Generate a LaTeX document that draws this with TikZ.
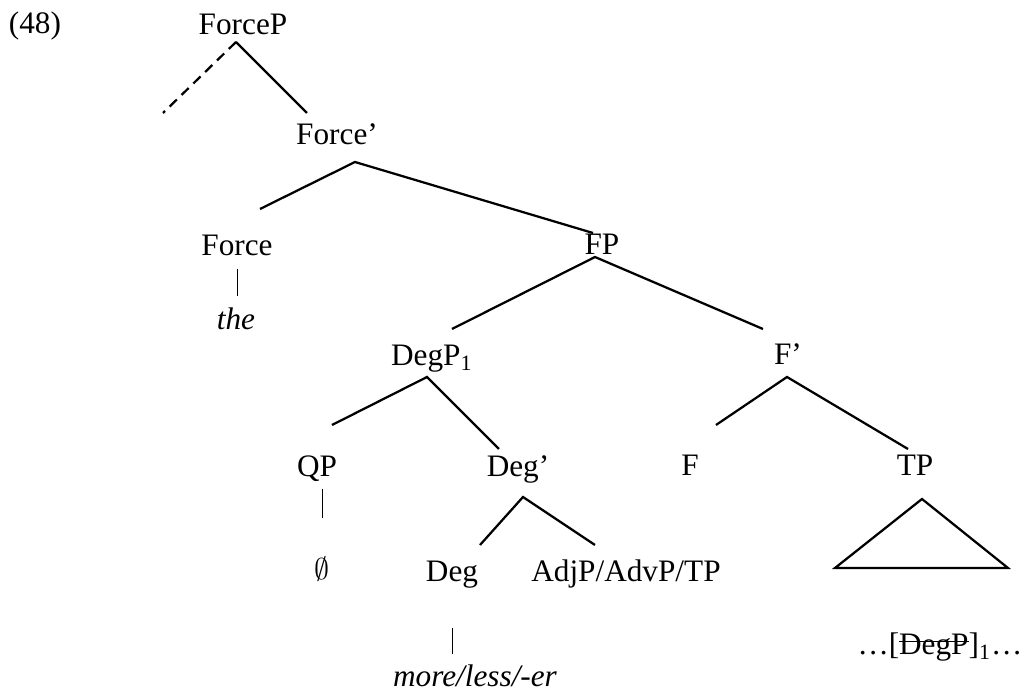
\documentclass[tikz,border=0pt]{standalone}
\usepackage{fontspec}
\setmainfont{Liberation Serif}
\usetikzlibrary{positioning}
\newcommand{\strikeout}[1]{\setbox0\hbox{#1}\rlap{\raisebox{0.4em}{\rule{\wd0}{0.6pt}}}\box0}

\begin{document}
\begin{tikzpicture}[x=0.4pt, y=-0.4pt,
		lbl/.style={inner sep=0pt, anchor=base},
		branch/.style={line width=0.9pt},
		bar/.style={line width=0.4pt}]
		\fontsize{12.5}{15}\selectfont
		\useasboundingbox (0,0) rectangle (1023,692);
		\node [lbl] (ex48) at (35,34) {(48)};
		\node [lbl] (forcep) at (243,35) {ForceP};
		\node [lbl] (forcebar) at (337,145) {Force'};
		\node [lbl] (force) at (237,256) {Force};
		\node [lbl] (the) at (236,330) {\itshape the};
		\node [lbl] (fp) at (602,255) {FP};
		\node [lbl] (degp) at (432,366) {DegP\textsubscript{1}};
		\node [lbl] (fbar) at (788,365) {F'};
		\node [lbl] (qp) at (317,477) {QP};
		\node [lbl] (degbar) at (518,477) {Deg'};
		\node [lbl] (f) at (690,476) {F};
		\node [lbl] (tp) at (915,476) {TP};
		\node [lbl] (empty) at (322,580) {$\emptyset$};
		\node [lbl] (deg) at (452,582) {Deg};
		\node [lbl] (adjp) at (626,582) {AdjP/AdvP/TP};
		\node [lbl] (more) at (475,687) {\itshape more/less/-er};
		\node [lbl] (trace) at (940,655) {\ldots[\strikeout{DegP}]\textsubscript{1}\ldots};
		\coordinate (forcep-a) at (236,42);
		\coordinate (spec-end) at (163,113);
		\coordinate (forcebar-t) at (307,113);
		\coordinate (forcebar-a) at (355,162);
		\coordinate (force-t) at (260,209);
		\coordinate (fp-t) at (593,233);
		\coordinate (fp-a) at (595,257);
		\coordinate (degp-t) at (452,329);
		\coordinate (fbar-t) at (763,329);
		\coordinate (degp-a) at (427,377);
		\coordinate (qp-t) at (332,425);
		\coordinate (degbar-t) at (499,449);
		\coordinate (fbar-a) at (787,377);
		\coordinate (f-t) at (716,425);
		\coordinate (tp-t) at (908,449);
		\coordinate (degbar-a) at (523,497);
		\coordinate (deg-t) at (480,545);
		\coordinate (adjp-t) at (595,545);
		\coordinate (tp-a) at (922,499);
		\coordinate (tp-l) at (835,568);
		\coordinate (tp-r) at (1008,568);
		\draw [branch, dash pattern=on 4pt off 2.6pt] (forcep-a) -- (spec-end);
		\draw [branch] (forcep-a) -- (forcebar-t);
		\draw [branch] (force-t) -- (forcebar-a) -- (fp-t);
		\draw [branch] (degp-t) -- (fp-a) -- (fbar-t);
		\draw [branch] (qp-t) -- (degp-a) -- (degbar-t);
		\draw [branch] (f-t) -- (fbar-a) -- (tp-t);
		\draw [branch] (deg-t) -- (degbar-a) -- (adjp-t);
		\draw [branch] (tp-a) -- (tp-l) -- (tp-r) -- cycle;
		\draw [bar, shorten <=4.8pt, shorten >=4.8pt] (force.south) -- (force.south |- the.north);
		\draw [bar, shorten <=2.4pt, shorten >=15.6pt] (empty.north |- qp.south) -- (empty.north);
		\draw [bar, shorten <=15.6pt, shorten >=4.4pt] (deg.south) -- (deg.south |- more.north);
	\end{tikzpicture}
\end{document}
